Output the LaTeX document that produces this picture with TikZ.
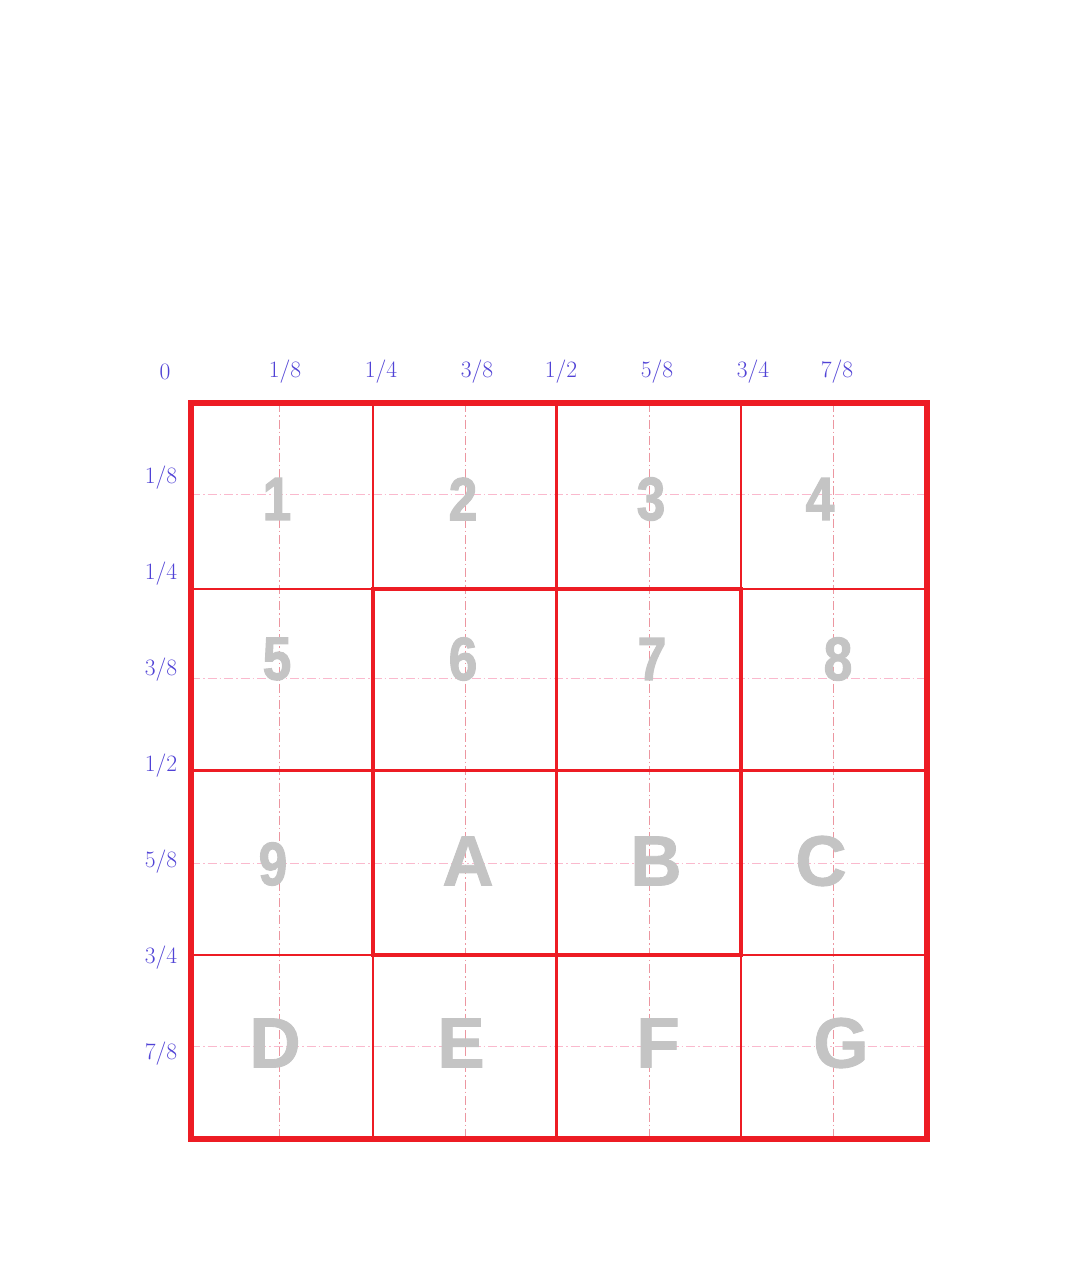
\documentclass[tikz,border=0pt]{standalone}
\usepackage{fontspec}
\newfontfamily\cellfont[FakeBold=1.2]{Liberation Sans}
\newfontfamily\digitfont[FakeStretch=0.84,FakeBold=1.8]{Liberation Sans}
\definecolor{gridred}{RGB}{237,28,36}
\definecolor{lblblue}{RGB}{80,66,214}
\definecolor{cellgray}{RGB}{196,196,196}
\definecolor{vdash}{RGB}{236,150,160}
\definecolor{hdash}{RGB}{250,185,205}
\tikzset{
  vguide/.style={draw=vdash, line width=1pt, dash pattern=on 9pt off 3pt on 1.5pt off 3pt},
  hguide/.style={draw=hdash, line width=1pt, dash pattern=on 9pt off 3pt on 1.5pt off 3pt},
  thinred/.style={draw=gridred, line width=1.4pt},
  midred/.style={draw=gridred, line width=3pt},
  boxred/.style={draw=gridred, line width=4.5pt, line join=miter},
  outerred/.style={draw=gridred, line width=5.5pt, line join=miter},
  axislbl/.style={text=lblblue, font=\fontsize{23.5}{25}\selectfont, inner sep=0pt},
  digit/.style={text=cellgray, font=\digitfont\bfseries\fontsize{61}{61}\selectfont, inner sep=0pt},
  letter/.style={text=cellgray, font=\cellfont\bfseries\fontsize{71}{71}\selectfont, inner sep=0pt}
}
\begin{document}
\begin{tikzpicture}[x=1pt,y=-1pt]
\useasboundingbox[fill=white] (0,0) rectangle (1082,1266);
% corner coordinates
\coordinate (TL) at (191,403);
\coordinate (BR) at (927,1139);
% eighth guide lines
\foreach \v/\n in {279/a,465/b,649/c,833/d}{
  \coordinate (vt\n) at (\v,403);
  \coordinate (vb\n) at (\v,1139);
  \draw[vguide] (vt\n) -- (vb\n);
}
\foreach \h/\n in {494/a,678/b,863/c,1046/d}{
  \coordinate (hl\n) at (191,\h);
  \coordinate (hr\n) at (927,\h);
  \draw[hguide] (hl\n) -- (hr\n);
}
% thin red quarter lines outside the centre square
\coordinate (q1t) at (373,403); \coordinate (q1a) at (373,589);
\coordinate (q1b) at (373,955); \coordinate (q1d) at (373,1139);
\coordinate (q3t) at (741,403); \coordinate (q3a) at (741,589);
\coordinate (q3b) at (741,955); \coordinate (q3d) at (741,1139);
\coordinate (r1l) at (191,589); \coordinate (r1r) at (927,589);
\coordinate (r3l) at (191,955); \coordinate (r3r) at (927,955);
\draw[thinred] (q1t) -- (q1a) (q1b) -- (q1d) (q3t) -- (q3a) (q3b) -- (q3d);
\draw[thinred] (r1l) -- (q1a) (q3a) -- (r1r) (r3l) -- (q1b) (q3b) -- (r3r);
% middle lines
\coordinate (mt) at (556,403); \coordinate (mb) at (556,1139);
\coordinate (ml) at (191,770); \coordinate (mr) at (929,770);
\draw[midred] (mt) -- (mb);
\draw[midred] (ml) -- (mr);
% centre square and outer border
\draw[boxred] (q1a) rectangle (q3b);
\draw[outerred] (TL) rectangle (BR);
% axis labels
\node[axislbl] (x0) at (165,372) {0};
\node[axislbl] (x1) at (285,372) {1/8};
\node[axislbl] (x2) at (381,372) {1/4};
\node[axislbl] (x3) at (477,372) {3/8};
\node[axislbl] (x4) at (561,372) {1/2};
\node[axislbl] (x5) at (657,372) {5/8};
\node[axislbl] (x6) at (753,372) {3/4};
\node[axislbl] (x7) at (837,372) {7/8};
\node[axislbl] (y1) at (161,478) {1/8};
\node[axislbl] (y2) at (161,574) {1/4};
\node[axislbl] (y3) at (161,670) {3/8};
\node[axislbl] (y4) at (161,766) {1/2};
\node[axislbl] (y5) at (161,862) {5/8};
\node[axislbl] (y6) at (161,958) {3/4};
\node[axislbl] (y7) at (161,1054) {7/8};
% cell labels
\node[digit] (c1) at (277,499) {1};
\node[digit] (c2) at (463,499) {2};
\node[digit] (c3) at (651,499) {3};
\node[digit] (c4) at (820,499) {4};
\node[digit] (c5) at (277,659) {5};
\node[digit] (c6) at (463,659) {6};
\node[digit] (c7) at (652,659) {7};
\node[digit] (c8) at (838,659) {8};
\node[digit] (c9) at (273,864) {9};
\node[letter] (cA) at (468,861) {A};
\node[letter] (cB) at (656,861) {B};
\node[letter] (cC) at (821,861) {C};
\node[letter] (cD) at (275,1043) {D};
\node[letter] (cE) at (461,1043) {E};
\node[letter] (cF) at (658,1043) {F};
\node[letter] (cG) at (841,1043) {G};
\end{tikzpicture}
\end{document}
